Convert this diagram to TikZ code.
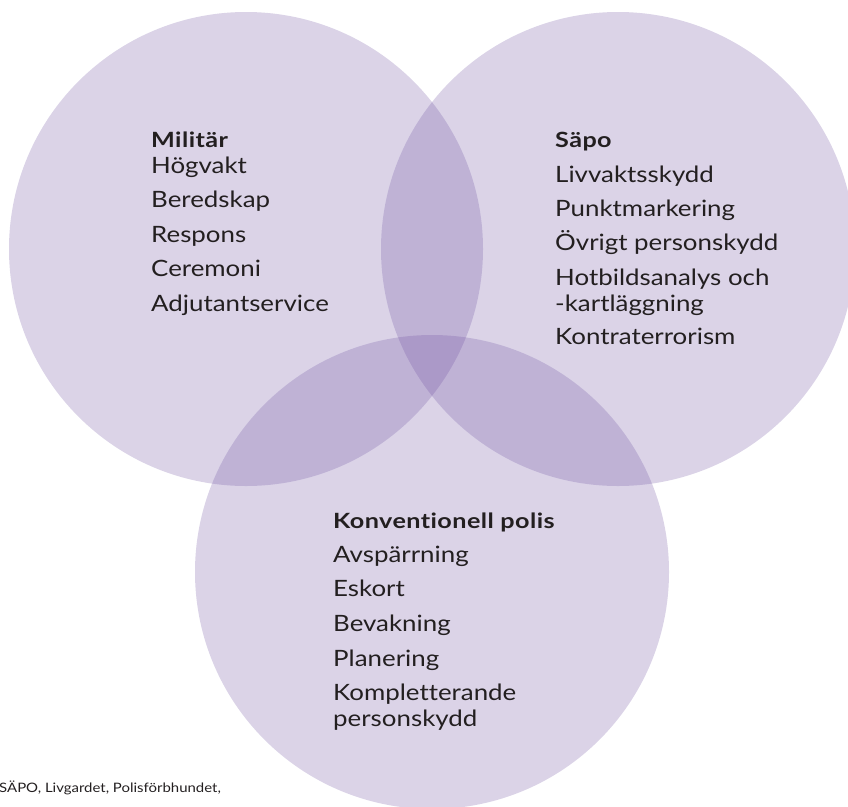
\documentclass[tikz,border=0pt]{standalone}
\usepackage{fontspec}
\setmainfont{Lato}
\newfontfamily\itemfont{Lato}[FakeStretch=1.15, Ligatures=NoCommon]
\newfontfamily\headfont{Lato}[FakeStretch=1.2, LetterSpace=2, Ligatures=NoCommon]
\usetikzlibrary{positioning}
\definecolor{venn}{RGB}{110,80,160}
\definecolor{ink}{RGB}{35,31,32}
\tikzset{
  area/.style={circle, fill=venn, fill opacity=0.25, minimum size=474pt, inner sep=0pt},
  head/.style={anchor=base west, inner sep=0pt, text=ink, font=\headfont\fontsize{21}{25}\selectfont\bfseries},
  item/.style={anchor=base west, inner sep=0pt, text=ink, font=\itemfont\fontsize{22.5}{26}\selectfont},
  note/.style={anchor=base west, inner sep=0pt, text=ink, font=\itemfont\fontsize{13}{15}\selectfont},
}

\begin{document}
\begin{tikzpicture}[x=1pt,y=-1pt]
  \useasboundingbox (0,0) rectangle (848,806);
  % the three circles
  \node[area] (mil) at (246,249) {};
  \node[area] (sapo) at (618,249) {};
  \node[area] (pol) at (432,572) {};
  % Militär
  \node[head] (milh) at (151,147) {Militär};
  \node[item] (mil1) at (151,173) {Högvakt};
  \node[item] (mil2) at (151,207.5) {Beredskap};
  \node[item] (mil3) at (151,242) {Respons};
  \node[item] (mil4) at (151,276.5) {Ceremoni};
  \node[item] (mil5) at (151,311) {Adjutantservice};
  % Säpo
  \node[head] (sapoh) at (555,147) {Säpo};
  \node[item] (sapo1) at (555,182) {Livvaktsskydd};
  \node[item] (sapo2) at (555,216) {Punktmarkering};
  \node[item] (sapo3) at (555,250) {Övrigt personskydd};
  \node[item] (sapo4) at (555,285) {Hotbildsanalys och};
  \node[item] (sapo4b) at (555,311) {-kartläggning};
  \node[item] (sapo5) at (555,344) {Kontraterrorism};
  % Konventionell polis
  \node[head] (polh) at (333,528) {Konventionell polis};
  \node[item] (pol1) at (333,562) {Avspärrning};
  \node[item] (pol2) at (333,596) {Eskort};
  \node[item] (pol3) at (333,631) {Bevakning};
  \node[item] (pol4) at (333,666) {Planering};
  \node[item] (pol5) at (333,700) {Kompletterande};
  \node[item] (pol5b) at (333,726) {personskydd};
  % source
  \node[note] (src) at (-1,792) {SÄPO, Livgardet, Polisförbhundet,};
\end{tikzpicture}
\end{document}
